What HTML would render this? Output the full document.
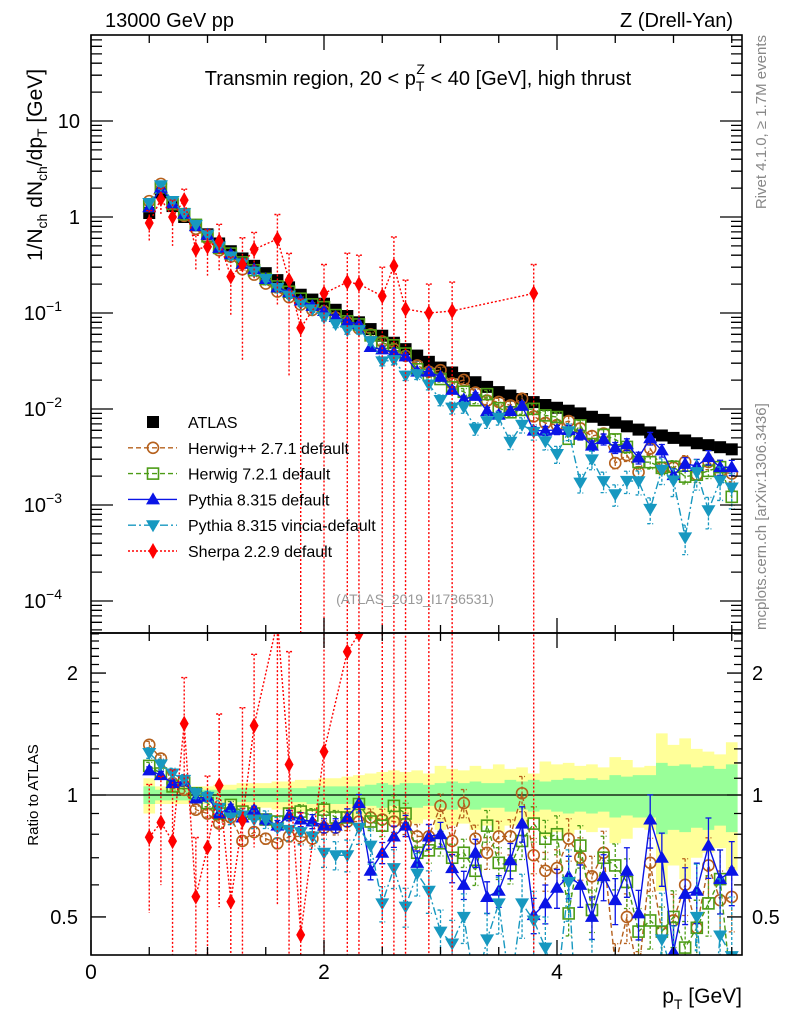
<!DOCTYPE html>
<html><head><meta charset="utf-8"><title>Transmin region pT</title>
<style>
html,body{margin:0;background:#fff;overflow:hidden;width:786px;height:1024px;}
svg{display:block;font-family:"Liberation Sans",Arial,sans-serif;}
</style></head>
<body>
<svg id="chart" width="786" height="1024" viewBox="0 0 786 1024" xmlns="http://www.w3.org/2000/svg">
<defs>
<clipPath id="clipMain"><rect x="91" y="35" width="651" height="598"/></clipPath>
<clipPath id="clipRatio"><rect x="91" y="633" width="651" height="322"/></clipPath>
</defs>
<g id="bands" clip-path="url(#clipRatio)"></g>
<g id="mainMarks" clip-path="url(#clipMain)"></g>
<g id="ratioMarks" clip-path="url(#clipRatio)"></g>
<g id="axes"></g>
<text x="105" y="27" font-size="20">13000 GeV pp</text>
<text x="733" y="27" font-size="20" text-anchor="end">Z (Drell-Yan)</text>
<text x="418" y="85" font-size="20" text-anchor="middle">Transmin region, 20 &lt; p<tspan font-size="14" dy="6">T</tspan><tspan font-size="14" dx="-8" dy="-17">Z</tspan><tspan dy="11"> &lt; 40 [GeV], high thrust</tspan></text>
<text transform="translate(42,165) rotate(-90)" font-size="21" text-anchor="middle">1/N<tspan font-size="14" dy="5">ch</tspan><tspan dy="-5"> dN</tspan><tspan font-size="14" dy="5">ch</tspan><tspan dy="-5">/dp</tspan><tspan font-size="14" dy="5">T</tspan><tspan dy="-5"> [GeV]</tspan></text>
<text transform="translate(38,795) rotate(-90)" font-size="15" text-anchor="middle">Ratio to ATLAS</text>
<text x="742" y="1003" font-size="21" text-anchor="end">p<tspan font-size="14" dy="6">T</tspan><tspan dy="-6"> [GeV]</tspan></text>
<text transform="translate(766,35) rotate(-90)" font-size="15" fill="#888" text-anchor="end">Rivet 4.1.0, ≥ 1.7M events</text>
<text transform="translate(766,630) rotate(-90)" font-size="15" fill="#888">mcplots.cern.ch [arXiv:1306.3436]</text>
<text x="415" y="604" font-size="14" fill="#999" text-anchor="middle">(ATLAS_2019_I1736531)</text>
<g id="legend"></g>
</svg>
<script>
const xs = [0.5,0.6,0.7,0.8,0.9,1.0,1.1,1.2,1.3,1.4,1.5,1.6,1.7,1.8,1.9,2.0,2.1,2.2,2.3,2.4,2.5,2.6,2.7,2.8,2.9,3.0,3.1,3.2,3.3,3.4,3.5,3.6,3.7,3.8,3.9,4.0,4.1,4.2,4.3,4.4,4.5,4.6,4.7,4.8,4.9,5.0,5.1,5.2,5.3,5.4,5.5];
const atlas = [1.1,1.8,1.3,1.0,0.82,0.66,0.53,0.44,0.37,0.31,0.26,0.22,0.185,0.155,0.138,0.125,0.108,0.093,0.08,0.068,0.058,0.049,0.042,0.036,0.031,0.027,0.024,0.021,0.019,0.017,0.015,0.0138,0.0127,0.0118,0.011,0.0103,0.0096,0.009,0.0083,0.0077,0.0072,0.0066,0.0061,0.0057,0.0053,0.005,0.0047,0.0044,0.0042,0.004,0.0038];
const herwigppRatio = [1.33,1.23,1.07,1.03,0.92,0.90,0.85,0.88,0.77,0.81,0.78,0.76,0.79,0.79,0.78,0.83,0.83,0.86,0.86,0.88,0.87,0.86,0.85,0.79,0.79,0.94,0.77,0.955,0.78,0.72,0.79,0.79,1.01,0.71,0.65,0.66,0.78,0.70,0.63,0.72,0.38,0.50,0.36,0.68,0.46,0.49,0.60,0.47,0.67,0.55,0.56];
const herwig7Ratio = [1.18,1.13,1.05,1.07,1.01,0.955,0.90,0.945,0.91,0.90,0.87,0.86,0.90,0.91,0.89,0.92,0.88,0.88,0.95,0.86,0.84,0.94,0.90,0.72,0.73,0.76,0.70,0.72,0.65,0.84,0.68,0.67,0.77,0.85,0.78,0.80,0.51,0.75,0.52,0.70,0.67,0.61,0.46,0.49,0.46,0.50,0.42,0.47,0.54,0.62,0.32];
const pythiaRatio = [1.15,1.12,1.07,1.08,0.98,0.99,0.90,0.93,0.88,0.92,0.87,0.84,0.89,0.87,0.86,0.84,0.84,0.88,0.955,0.65,0.72,0.79,0.84,0.68,0.79,0.80,0.66,0.60,0.72,0.56,0.58,0.69,0.85,0.505,0.54,0.59,0.63,0.60,0.50,0.63,0.55,0.65,0.51,0.87,0.70,0.41,0.57,0.58,0.75,0.62,0.65];
const vinciaRatio = [1.27,1.19,1.13,1.09,1.01,0.99,0.93,0.88,0.89,0.87,0.87,0.83,0.82,0.81,0.79,0.72,0.71,0.71,0.83,0.75,0.54,0.66,0.53,0.64,0.58,0.46,0.43,0.50,0.33,0.44,0.54,0.33,0.54,0.49,0.42,0.33,0.61,0.19,0.36,0.23,0.18,0.27,0.29,0.16,0.44,0.36,0.098,0.5,0.21,0.45,0.4];
const sherpa = [0.865,1.54,1.0,1.5,0.46,0.49,0.56,0.24,0.32,0.46,null,0.59,0.22,0.07,null,0.16,null,0.21,0.2,null,0.15,0.31,0.11,null,0.1,null,0.105,null,null,null,null,null,null,0.16,null,null,null,null,null,null,null,null,null,null,null,null,null,null,null,null,null];
const sherpaErr = [0.35,0.3,0.5,0.3,0.4,0.5,0.5,0.6,0.9,0.5,0,0.8,0.9,1,0,1,0,1,1,0,1,1,1,0,1,0,1,0,0,0,0,0,0,1,0,0,0,0,0,0,0,0,0,0,0,0,0,0,0,0,0];
const mcErr = [0.02,0.02,0.02,0.02,0.02,0.02,0.02,0.02,0.02,0.02,0.03,0.03,0.03,0.04,0.04,0.04,0.04,0.05,0.05,0.05,0.06,0.06,0.06,0.07,0.07,0.07,0.08,0.08,0.08,0.09,0.09,0.1,0.1,0.1,0.11,0.11,0.12,0.12,0.12,0.13,0.13,0.14,0.14,0.15,0.15,0.16,0.16,0.17,0.17,0.18,0.18];
const vinciaErr = [0.03,0.03,0.03,0.03,0.03,0.03,0.04,0.04,0.04,0.05,0.05,0.06,0.06,0.07,0.07,0.08,0.08,0.09,0.09,0.1,0.1,0.11,0.11,0.12,0.12,0.13,0.14,0.14,0.15,0.16,0.16,0.17,0.18,0.18,0.19,0.2,0.2,0.22,0.22,0.24,0.25,0.26,0.28,0.3,0.3,0.32,0.34,0.35,0.36,0.38,0.4];
const statErr = [0.05,0.03,0.03,0.03,0.03,0.03,0.03,0.03,0.04,0.04,0.04,0.04,0.04,0.04,0.05,0.05,0.05,0.05,0.05,0.06,0.07,0.06,0.07,0.07,0.06,0.07,0.08,0.07,0.08,0.07,0.07,0.09,0.08,0.09,0.08,0.09,0.10,0.09,0.10,0.09,0.12,0.11,0.12,0.12,0.20,0.18,0.19,0.17,0.18,0.16,0.19];
const totErr = [0.10,0.05,0.05,0.05,0.05,0.05,0.06,0.06,0.07,0.07,0.07,0.08,0.08,0.09,0.09,0.10,0.10,0.11,0.12,0.13,0.14,0.15,0.14,0.15,0.13,0.18,0.16,0.15,0.18,0.16,0.19,0.16,0.17,0.13,0.21,0.19,0.20,0.18,0.19,0.17,0.24,0.22,0.17,0.18,0.42,0.33,0.38,0.30,0.28,0.26,0.35];
const yTickLabels = ["10","1","10","10","10","10"];
const yTickExps = ["","","−1","−2","−3","−4"];
const yTickVals = [10,1,0.1,0.01,0.001,0.0001];
const xTickVals = [0,2,4];
const ratioTickVals = [2,1,0.5];

const NS="http://www.w3.org/2000/svg";
const X0=91,X1=742,PX=116.5;
const sx=v=>X0+v*PX;
const sy=v=>217-96*Math.log10(v);
const sr=r=>795-405*Math.log10(r);
function el(tag,attrs,parent){const e=document.createElementNS(NS,tag);for(const k in attrs)e.setAttribute(k,attrs[k]);parent.appendChild(e);return e;}

const bands=document.getElementById('bands');
const mainG=document.getElementById('mainMarks');
const ratioG=document.getElementById('ratioMarks');
const axes=document.getElementById('axes');

function bandPath(err){let up='',dn='';for(let i=0;i<xs.length;i++){const a=sx(xs[i]-0.05),b=sx(xs[i]+0.05);up+=(i?'L':'M')+a+','+sr(1+err[i])+'L'+b+','+sr(1+err[i]);}
for(let i=xs.length-1;i>=0;i--){const a=sx(xs[i]-0.05),b=sx(xs[i]+0.05);dn+='L'+b+','+sr(1-err[i])+'L'+a+','+sr(1-err[i]);}return up+dn+'Z';}
const tb=el('path',{d:bandPath(totErr),fill:'#ffff99'},bands);


const sb=el('path',{d:bandPath(statErr),fill:'#99ff99'},bands);


const one=el('line',{x1:X0,x2:X1,y1:sr(1),y2:sr(1),stroke:'#000','stroke-width':1.3},bands);



function marker(type,x,y,color,parent){
  let m;
  if(type==='square') m=el('rect',{x:x-6,y:y-6,width:12,height:12,fill:'#000'},parent);
  else if(type==='circle') m=el('circle',{cx:x,cy:y,r:5.5,fill:'none',stroke:color,'stroke-width':1.6},parent);
  else if(type==='osquare') m=el('rect',{x:x-5.5,y:y-5.5,width:11,height:11,fill:'none',stroke:color,'stroke-width':1.6},parent);
  else if(type==='tri') m=el('path',{d:`M${x},${y-7}L${x+7},${y+5}L${x-7},${y+5}Z`,fill:color},parent);
  else if(type==='itri') m=el('path',{d:`M${x},${y+7}L${x+7},${y-5}L${x-7},${y-5}Z`,fill:color},parent);
  else if(type==='diamond') m=el('path',{d:`M${x},${y-8}L${x+4.5},${y}L${x},${y+8}L${x-4.5},${y}Z`,fill:color},parent);
  return m;
}

const series=[
 {name:'herwigpp',ratio:herwigppRatio,err:mcErr,color:'#b5601c',dash:'5,3',mk:'circle'},
 {name:'herwig7',ratio:herwig7Ratio,err:mcErr,color:'#4c9c16',dash:'5,3',mk:'osquare'},
 {name:'pythia',ratio:pythiaRatio,err:mcErr,color:'#0a14e6',dash:'',mk:'tri'},
 {name:'vincia',ratio:vinciaRatio,err:vinciaErr,color:'#1798c0',dash:'8,3,2,3',mk:'itri'}
];

for(let i=0;i<xs.length;i++){
  const m=marker('square',sx(xs[i]),sy(atlas[i]),'#000',mainG);
  
  
}

function drawSeries(s){
  const mainPts=[],ratPts=[];
  for(let i=0;i<xs.length;i++){
    const v=atlas[i]*s.ratio[i];
    const x=sx(xs[i]);
    mainPts.push(x+','+sy(v));ratPts.push(x+','+sr(s.ratio[i]));
  }
  const l1=el('polyline',{points:mainPts.join(' '),fill:'none',stroke:s.color,'stroke-width':1.4,'stroke-dasharray':s.dash},mainG);
  
  
  const l2=el('polyline',{points:ratPts.join(' '),fill:'none',stroke:s.color,'stroke-width':1.4,'stroke-dasharray':s.dash},ratioG);
  
  
  for(let i=0;i<xs.length;i++){
    const v=atlas[i]*s.ratio[i],x=sx(xs[i]),e=s.err[i];
    [[mainG,sy(v*(1+e)),sy(v*(1-e)),sy(v)],[ratioG,sr(s.ratio[i]*(1+e)),sr(s.ratio[i]*(1-e)),sr(s.ratio[i])]].forEach(([g,a,b,c])=>{
      const eb=el('path',{d:`M${x},${a}L${x},${b}M${x-3},${a}L${x+3},${a}M${x-3},${b}L${x+3},${b}`,stroke:s.color,'stroke-width':1.3,fill:'none','stroke-dasharray':s.dash?'3,2':''},g);
      
      
      const m=marker(s.mk,x,c,s.color,g);
      
      
    });
  }
}
series.forEach(drawSeries);

(function(){
  const mp=[],rp=[];
  for(let i=0;i<xs.length;i++){ if(sherpa[i]==null) continue; mp.push(sx(xs[i])+','+sy(sherpa[i])); rp.push(sx(xs[i])+','+sr(sherpa[i]/atlas[i])); }
  const l1=el('polyline',{points:mp.join(' '),fill:'none',stroke:'#f00','stroke-width':1.4,'stroke-dasharray':'2,2'},mainG);
  
  
  const l2=el('polyline',{points:rp.join(' '),fill:'none',stroke:'#f00','stroke-width':1.4,'stroke-dasharray':'2,2'},ratioG);
  
  
  for(let i=0;i<xs.length;i++){
    if(sherpa[i]==null) continue;
    const v=sherpa[i],e=sherpaErr[i],x=sx(xs[i]),r=v/atlas[i];
    const lo=e>=1?1e-6:v*(1-e), rlo=e>=1?0.01:r*(1-e);
    [[mainG,sy(v*(1+e)),sy(lo),sy(v)],[ratioG,sr(r*(1+e)),sr(rlo),sr(r)]].forEach(([g,a,b,c])=>{
      const eb=el('path',{d:`M${x},${a}L${x},${b}M${x-3},${a}L${x+3},${a}`,stroke:'#f00','stroke-width':1.4,fill:'none','stroke-dasharray':'2,2'},g);
      
      
      const m=marker('diamond',x,c,'#f00',g);
      
      
    });
  }
})();

const f1=el('rect',{x:X0,y:35,width:X1-X0,height:598,fill:'none',stroke:'#000','stroke-width':1.6},axes);


const f2=el('rect',{x:X0,y:633,width:X1-X0,height:322,fill:'none',stroke:'#000','stroke-width':1.6},axes);



let tk='';
for(let v=0;v<=5.5;v+=0.5){const x=sx(v),L=(v%2===0)?15:8;
  tk+=`M${x},35L${x},${35+L}M${x},633L${x},${633-L}M${x},633L${x},${633+L}M${x},955L${x},${955-L}`;}
for(let d=-5;d<=1;d++){for(let k=1;k<10;k++){const v=k*Math.pow(10,d),y=sy(v);if(y<35||y>633)continue;const L=k===1?22:11;
  tk+=`M${X0},${y}L${X0+L},${y}M${X1},${y}L${X1-L},${y}`;}}
for(let k=4;k<=25;k++){const r=k/10;const y=sr(r);if(y<633||y>955)continue;const major=(k===5||k===10||k===20);const L=major?15:8;
  tk+=`M${X0},${y}L${X0+L},${y}M${X1},${y}L${X1-L},${y}`;}
const tp=el('path',{d:tk,stroke:'#000','stroke-width':1.3,fill:'none'},axes);



xTickVals.forEach(v=>{const t=el('text',{x:sx(v),y:979,'font-size':21,'text-anchor':'middle'},axes);t.textContent=v;
  
  });
yTickVals.forEach((v,i)=>{const t=el('text',{x:yTickExps[i]?62:80,y:sy(v)+7,'font-size':20,'text-anchor':'end'},axes);t.textContent=yTickLabels[i];
  
  
  if(yTickExps[i]){const s=el('tspan',{'font-size':14,dy:-9},t);s.textContent=yTickExps[i];}});
ratioTickVals.forEach(r=>{
  const t=el('text',{x:78,y:sr(r)+7,'font-size':20,'text-anchor':'end'},axes);t.textContent=r;
  
  
  const t2=el('text',{x:752,y:sr(r)+7,'font-size':20},axes);t2.textContent=r;
  
  
});

const legend=document.getElementById('legend');
const legItems=[
 {label:'ATLAS',mk:'square',color:'#000',dash:null},
 {label:'Herwig++ 2.7.1 default',mk:'circle',color:'#b5601c',dash:'5,3'},
 {label:'Herwig 7.2.1 default',mk:'osquare',color:'#4c9c16',dash:'5,3'},
 {label:'Pythia 8.315 default',mk:'tri',color:'#0a14e6',dash:''},
 {label:'Pythia 8.315 vincia-default',mk:'itri',color:'#1798c0',dash:'8,3,2,3'},
 {label:'Sherpa 2.2.9 default',mk:'diamond',color:'#f00',dash:'2,2'}
];
legItems.forEach((it,i)=>{
  const y=422+i*25.8;
  const g=el('g',{},legend);
  
  
  if(it.dash!==null) el('line',{x1:128,x2:177,y1:y,y2:y,stroke:it.color,'stroke-width':1.4,'stroke-dasharray':it.dash},g);
  marker(it.mk,153,y,it.color,g);
  const t=el('text',{x:188,y:y+6,'font-size':16},g);t.textContent=it.label;
});
</script>
</body></html>
